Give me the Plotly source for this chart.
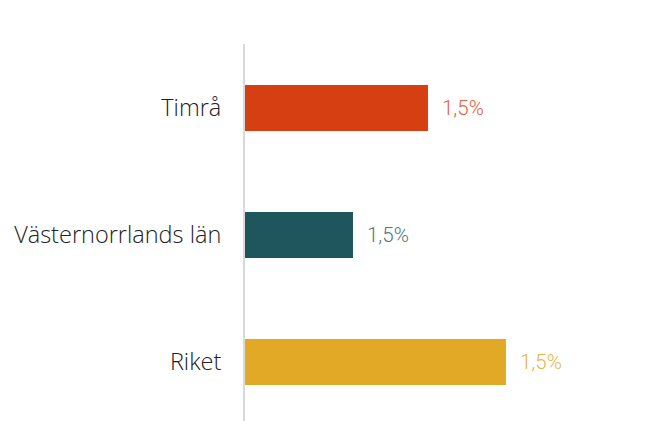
import plotly.graph_objects as go

categories = ["Timrå", "Västernorrlands län", "Riket"]
values = [1.50, 1.45, 1.552]
value_labels = ["1,5%", "1,5%", "1,5%"]
bar_colors = ["#d63f11", "#1f555d", "#e2a927"]
label_colors = ["#e5603a", "#4e777d", "#e8b447"]

fig = go.Figure()
fig.add_trace(go.Bar(
    y=categories, x=values, orientation="h",
    marker=dict(color=bar_colors, line=dict(width=0)),
    width=0.362, hoverinfo="skip",
))

for c, v, t, col in zip(categories, values, value_labels, label_colors):
    fig.add_annotation(x=v, y=c, text=t, showarrow=False, xanchor="left",
                       xshift=12, font=dict(family="Roboto", size=20.5, color=col, weight=300))

fig.update_layout(
    width=646, height=413,
    margin=dict(l=237, r=0, t=36, b=0),
    paper_bgcolor="white", plot_bgcolor="white",
    showlegend=False,
    xaxis=dict(range=[1.378, 1.6507], visible=False, showgrid=False, zeroline=False),
    yaxis=dict(categoryorder="array", categoryarray=categories,
               range=[2.465, -0.504], showgrid=False, zeroline=False,
               showline=True, linecolor="#d9d9d9", linewidth=2,
               ticks="", ticklabelstandoff=17,
               tickfont=dict(family="Open Sans", size=23.5, color="#222222", weight=300)),
)
fig.write_html("out.html")
